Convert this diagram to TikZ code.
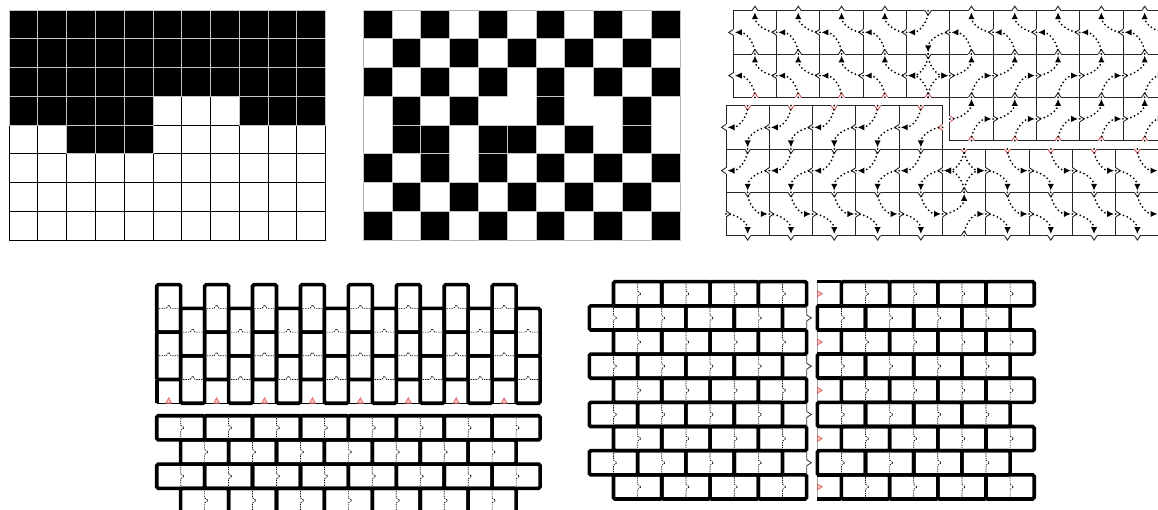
\documentclass[tikz,border=0pt]{standalone}
\usetikzlibrary{arrows.meta}
\definecolor{bumpred}{RGB}{215,85,85}
\definecolor{bumpfill}{RGB}{250,190,190}
\colorlet{edgec}{black!85}
\newcommand\tS{43.3}
\newcommand\tH{21.65}
\tikzset{
  thinedge/.style={line width=0.9pt, draw=edgec},
  flowline/.style={line width=2pt, dash pattern=on 0pt off 4pt, line cap=round, -{Latex[length=7pt,width=6.5pt]}, shorten >=1.5pt},
  cellgrid/.style={line width=0.9pt, draw=black},
  blackcell/.style={fill=black, draw=gray!45, line width=0.9pt},
  fatline/.style={line width=3.6pt, draw=black, rounded corners=1.5pt},
  midline/.style={line width=0.7pt, dash pattern=on 1.3pt off 1.1pt},
  tipbump/.style={draw=bumpred, fill=bumpfill, line width=0.6pt},
  sideline/.style={line width=0.8pt, draw=black!80},
}
% horizontal tile edge with a chevron at its middle: x, y, dir (+1 down, -1 up), colour
\newcommand\hedge[4]{%
  \draw[thinedge] ({#1},{#2}) -- ({#1+\tH-3},{#2}) ({#1+\tH+3},{#2}) -- ({#1+\tS},{#2});
  \draw[thinedge,draw=#4] ({#1+\tH-3},{#2}) -- ({#1+\tH},{#2+4.5*(#3)}) -- ({#1+\tH+3},{#2});
}
% vertical tile edge: x, y, dir (+1 right, -1 left), colour
\newcommand\vedge[4]{%
  \draw[thinedge] ({#1},{#2}) -- ({#1},{#2+\tH-3}) ({#1},{#2+\tH+3}) -- ({#1},{#2+\tS});
  \draw[thinedge,draw=#4] ({#1},{#2+\tH-3}) -- ({#1+4.5*(#3)},{#2+\tH}) -- ({#1},{#2+\tH+3});
}
% quarter arc from A=(#1,#2) to B=(#3,#4) round corner O=(#5,#6)
\newcommand\qarc[6]{%
  \draw[flowline] ({#1},{#2}) .. controls ({#1+0.5523*(#3-#5)},{#2+0.5523*(#4-#6)}) and ({#3+0.5523*(#1-#5)},{#4+0.5523*(#2-#6)}) .. ({#3},{#4});
}
% tile with arcs: x, y, type
\newcommand\tile[3]{%
  \pgfmathsetmacro\tx{#1}\pgfmathsetmacro\ty{#2}%
  \pgfmathsetmacro\xm{\tx+\tH}\pgfmathsetmacro\xr{\tx+\tS}%
  \pgfmathsetmacro\ym{\ty+\tH}\pgfmathsetmacro\yb{\ty+\tS}%
  \ifcase#3\relax
    \qarc{\xm}{\yb}{\tx}{\ym}{\tx}{\yb}\qarc{\xr}{\ym}{\xm}{\ty}{\xr}{\ty}%
  \or
    \qarc{\xm}{\ty}{\tx}{\ym}{\tx}{\ty}\qarc{\xr}{\ym}{\xm}{\yb}{\xr}{\yb}%
  \or
    \qarc{\tx}{\ym}{\xm}{\ty}{\tx}{\ty}\qarc{\xm}{\yb}{\xr}{\ym}{\xr}{\yb}%
  \or
    \qarc{\xm}{\ty}{\xr}{\ym}{\xr}{\ty}\qarc{\tx}{\ym}{\xm}{\yb}{\tx}{\yb}%
  \or
    \qarc{\xm}{\ty}{\tx}{\ym}{\tx}{\ty}\qarc{\xm}{\yb}{\tx}{\ym}{\tx}{\yb}%
    \qarc{\xm}{\ty}{\xr}{\ym}{\xr}{\ty}\qarc{\xm}{\yb}{\xr}{\ym}{\xr}{\yb}%
  \fi}
% vertical domino: x, y, width, square height
\newcommand\vdom[4]{%
  \draw[midline] ({#1},{#2+#4}) -- ({#1+#3/2-2.5},{#2+#4}) -- ({#1+#3/2},{#2+#4-3.5}) -- ({#1+#3/2+2.5},{#2+#4}) -- ({#1+#3},{#2+#4});
  \draw[fatline] ({#1},{#2}) rectangle ({#1+#3},{#2+2*#4});
}
% horizontal domino: x, y, square width, height
\newcommand\hdom[4]{%
  \draw[midline] ({#1+#3},{#2}) -- ({#1+#3},{#2+#4/2-2.5}) -- ({#1+#3+3.5},{#2+#4/2}) -- ({#1+#3},{#2+#4/2+2.5}) -- ({#1+#3},{#2+#4});
  \draw[fatline] ({#1},{#2}) rectangle ({#1+2*#3},{#2+#4});
}
\begin{document}
\begin{tikzpicture}[x=1pt,y=-1pt]
\clip (0,0) rectangle (1158,510);
\fill[white] (0,0) rectangle (1158,510);

% ---------- panel 1 ----------
\foreach \i in {0,...,11} {\draw[cellgrid] ({9+\i*28.79},10) -- ({9+\i*28.79},240);}
\foreach \j in {0,...,8} {\draw[cellgrid] (9,{10+\j*28.75}) -- (325.7,{10+\j*28.75});}
\foreach \r in {0,1,2} \foreach \c in {0,...,10}
  {\filldraw[blackcell] ({9+\c*28.79},{10+\r*28.75}) rectangle ++(28.79,28.75);}
\foreach \c/\r in {0/3,1/3,2/3,3/3,4/3,8/3,9/3,10/3,2/4,3/4,4/4}
  {\filldraw[blackcell] ({9+\c*28.79},{10+\r*28.75}) rectangle ++(28.79,28.75);}

% ---------- panel 2 ----------
\draw[gray!60, line width=0.9pt] (363.3,10) rectangle (680,240);
\foreach \r in {0,2,5,7} \foreach \c in {0,2,...,10}
  {\filldraw[blackcell] ({363.3+\c*28.79},{10+\r*28.75}) rectangle ++(28.79,28.75);}
\foreach \r in {1,6} \foreach \c in {1,3,...,9}
  {\filldraw[blackcell] ({363.3+\c*28.79},{10+\r*28.75}) rectangle ++(28.79,28.75);}
\foreach \c/\r in {1/3,3/3,6/3,9/3,1/4,2/4,4/4,5/4,7/4,9/4}
  {\filldraw[blackcell] ({363.3+\c*28.79},{10+\r*28.75}) rectangle ++(28.79,28.75);}

% ---------- panel 3 : edges ----------
% upper block
\foreach \c/\d in {0/-1,1/-1,2/-1,3/-1,4/1,5/-1,6/-1,7/-1,8/-1,9/-1}
  {\hedge{733.3+\c*\tS}{10.7}{\d}{edgec}\hedge{733.3+\c*\tS}{10.7+\tS}{\d}{edgec}}
\foreach \c/\bc in {0/bumpred,1/bumpred,2/bumpred,3/bumpred,4/bumpred,5/edgec,6/edgec,7/edgec,8/edgec,9/edgec}
  {\hedge{733.3+\c*\tS}{10.7+2*\tS}{-1}{\bc}}
\foreach \c in {5,...,9} {\hedge{733.3+\c*\tS}{10.7+3*\tS}{-1}{bumpred}}
\foreach \c in {0,...,9} {\vedge{733.3+\c*\tS}{10.7}{-1}{edgec}}
\foreach \c/\d in {0/-1,1/-1,2/-1,3/-1,4/-1,5/1,6/1,7/1,8/1,9/1}
  {\vedge{733.3+\c*\tS}{10.7+\tS}{\d}{edgec}}
\foreach \c/\bc in {5/bumpred,6/edgec,7/edgec,8/edgec,9/edgec}
  {\vedge{733.3+\c*\tS}{10.7+2*\tS}{1}{\bc}}
% lower block
\foreach \c in {0,...,4} {\hedge{726+\c*\tS}{105.7}{1}{bumpred}}
\foreach \c/\bc in {0/edgec,1/edgec,2/edgec,3/edgec,4/edgec,5/bumpred,6/bumpred,7/bumpred,8/bumpred,9/bumpred}
  {\hedge{726+\c*\tS}{105.7+\tS}{1}{\bc}}
\foreach \c/\d in {0/1,1/1,2/1,3/1,4/1,5/-1,6/1,7/1,8/1,9/1}
  {\hedge{726+\c*\tS}{105.7+2*\tS}{\d}{edgec}\hedge{726+\c*\tS}{105.7+3*\tS}{\d}{edgec}}
\foreach \c/\bc in {0/edgec,1/edgec,2/edgec,3/edgec,4/edgec,5/bumpred}
  {\vedge{726+\c*\tS}{105.7}{-1}{\bc}}
\foreach \c/\d in {0/-1,1/-1,2/-1,3/-1,4/-1,5/-1,6/1,7/1,8/1,9/1,10/1}
  {\vedge{726+\c*\tS}{105.7+\tS}{\d}{edgec}}
\foreach \c in {0,...,10} {\vedge{726+\c*\tS}{105.7+2*\tS}{1}{edgec}}

% ---------- panel 3 : flows ----------
\foreach \c/\tp in {0/0,1/0,2/0,3/0,4/1,5/0,6/0,7/0,8/0,9/0} {\tile{733.3+\c*\tS}{10.7}{\tp}}
\foreach \c/\tp in {0/0,1/0,2/0,3/0,4/4,5/2,6/2,7/2,8/2,9/2} {\tile{733.3+\c*\tS}{10.7+\tS}{\tp}}
\foreach \c in {5,...,9} {\tile{733.3+\c*\tS}{10.7+2*\tS}{2}}
\foreach \c in {0,...,4} {\tile{726+\c*\tS}{105.7}{1}}
\foreach \c/\tp in {0/1,1/1,2/1,3/1,4/1,5/4,6/3,7/3,8/3,9/3} {\tile{726+\c*\tS}{105.7+\tS}{\tp}}
\foreach \c/\tp in {0/3,1/3,2/3,3/3,4/3,5/2,6/3,7/3,8/3,9/3} {\tile{726+\c*\tS}{105.7+2*\tS}{\tp}}

% ---------- panel 4 ----------
\draw[line width=0.8pt] (156.7,403.2) -- (540,403.2);
\foreach \c in {0,2,...,14} \foreach \r in {0,2} {\vdom{156.7+\c*23.96}{284.7+\r*23.7}{23.96}{23.7}}
\foreach \c in {1,3,...,15} \foreach \r in {1,3} {\vdom{156.7+\c*23.96}{284.7+\r*23.7}{23.96}{23.7}}
\draw[fatline] (156.7,379.5) -- (156.7,403.2);
\foreach \c in {0,2,...,14}
  {\filldraw[tipbump] ({156.7+\c*23.96+9},403.2) -- ({156.7+\c*23.96+12},397.8) -- ({156.7+\c*23.96+15},403.2) -- cycle;}
\foreach \c in {0,2,...,14} \foreach \r in {0,2} {\hdom{156.7+\c*23.96}{415.7+\r*24.2}{23.96}{24.2}}
\foreach \c in {1,3,...,13} \foreach \r in {1,3} {\hdom{156.7+\c*23.96}{415.7+\r*24.2}{23.96}{24.2}}

% ---------- panel 5 ----------
\foreach \r in {0,2,4,6,8} \foreach \c in {1,3,5,7} {\hdom{589.3+\c*24.15}{281.7+\r*24.14}{24.15}{24.14}}
\foreach \r in {1,3,5,7} \foreach \c in {0,2,4,6} {\hdom{589.3+\c*24.15}{281.7+\r*24.14}{24.15}{24.14}}
\foreach \r in {1,3,5,7} {
  \draw[sideline] (806.65,{281.7+\r*24.14}) -- (806.65,{281.7+\r*24.14+12.07-3}) -- (811.4,{281.7+\r*24.14+12.07}) -- (806.65,{281.7+\r*24.14+12.07+3}) -- (806.65,{281.7+(\r+1)*24.14});
}
\foreach \r in {0,2,4,6,8} {
  \draw[sideline,draw=gray!70] (817.3,{281.7+\r*24.14}) -- (817.3,{281.7+(\r+1)*24.14});
  \draw[fatline] (817.3,{281.7+\r*24.14}) -- (841.4,{281.7+\r*24.14});
  \draw[fatline] (817.3,{281.7+(\r+1)*24.14}) -- (841.4,{281.7+(\r+1)*24.14});
  \filldraw[tipbump] (817.3,{281.7+\r*24.14+12.07-3}) -- (822.3,{281.7+\r*24.14+12.07}) -- (817.3,{281.7+\r*24.14+12.07+3}) -- cycle;
}
\foreach \r in {0,2,4,6,8} \foreach \c in {1,3,5,7} {\hdom{817.3+\c*24.1}{281.7+\r*24.14}{24.1}{24.14}}
\foreach \r in {1,3,5,7} \foreach \c in {0,2,4,6} {\hdom{817.3+\c*24.1}{281.7+\r*24.14}{24.1}{24.14}}
\end{tikzpicture}
\end{document}
